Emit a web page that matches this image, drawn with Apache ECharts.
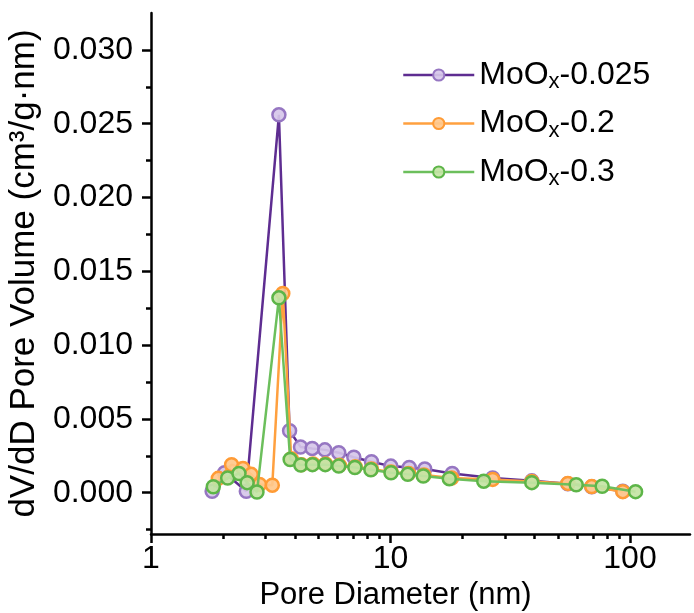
<!DOCTYPE html>
<html>
<head>
<meta charset="utf-8">
<script src="https://cdn.jsdelivr.net/npm/echarts@6/dist/echarts.min.js"></script>
<style>
html,body{margin:0;padding:0;background:#fff;}
#c{width:694px;height:613px;}
</style>
</head>
<body>
<div id="c"></div>
<script>
// ---- data ----
const seriesNames = ['MoOx-0.025', 'MoOx-0.2', 'MoOx-0.3'];

const xPurple = [1.80, 2.03, 2.50, 3.42, 3.79, 4.21, 4.71, 5.32, 6.08, 7.03, 8.33, 10.03, 11.97, 13.9, 18.1, 26.7, 38.9, 55.0, 69.2, 93.3];
const yPurple = [0.0001, 0.00135, 0.0001, 0.0256, 0.0042, 0.0031, 0.0030, 0.0029, 0.0027, 0.0024, 0.0021, 0.0018, 0.0017, 0.0016, 0.0013, 0.0010, 0.0008, 0.0006, 0.0004, 0.0001];

const xOrange = [1.91, 2.17, 2.42, 2.62, 2.84, 3.21, 3.55, 3.85, 4.25, 4.75, 5.36, 6.12, 7.12, 8.32, 10.05, 11.9, 13.8, 18.0, 26.7, 38.9, 55.0, 69.2, 93.3];
const yOrange = [0.00097, 0.0019, 0.00164, 0.00124, 0.00056, 0.00051, 0.0135, 0.0023, 0.0019, 0.00195, 0.00195, 0.00185, 0.00175, 0.0016, 0.0014, 0.0013, 0.0012, 0.0010, 0.0009, 0.00075, 0.00063, 0.00041, 0.00007];

const xGreen = [1.82, 2.09, 2.33, 2.52, 2.77, 3.42, 3.81, 4.22, 4.72, 5.34, 6.08, 7.10, 8.28, 10.05, 11.8, 13.7, 17.6, 24.5, 38.9, 59.6, 76.5, 105.5];
const yGreen = [0.0004, 0.0010, 0.0013, 0.00068, 0.00004, 0.0132, 0.00225, 0.00187, 0.0019, 0.0019, 0.0018, 0.0017, 0.00155, 0.00135, 0.00124, 0.00113, 0.00095, 0.00078, 0.00068, 0.00054, 0.00043, 0.00007];

const xMajorTicks = [1, 10, 100];
const xMinorTicks = [2, 3, 4, 5, 6, 7, 8, 9, 20, 30, 40, 50, 60, 70, 80, 90];
const yMajorTicks = [0, 0.005, 0.010, 0.015, 0.020, 0.025, 0.030];
const yMinorTicks = [-0.0025, 0.0025, 0.0075, 0.0125, 0.0175, 0.0225, 0.0275];

const xMin = 1, xMax = 178;
const yMin = -0.0028, yMax = 0.0325;

// ---- chart ----
const FONT = '"Liberation Sans", Arial, sans-serif';
const zip = (xs, ys) => xs.map((x, i) => [x, ys[i]]);

const styles = [
  {line: '#5e2d91', fill: 'rgba(214,199,233,0.92)', border: '#9676c2'},
  {line: '#ffa03f', fill: 'rgba(255,200,140,0.92)', border: '#ff9b35'},
  {line: '#6cbf5c', fill: 'rgba(196,228,165,0.92)', border: '#5db548'}
];
const datas = [zip(xPurple, yPurple), zip(xOrange, yOrange), zip(xGreen, yGreen)];

const chart = echarts.init(document.getElementById('c'), null, {renderer: 'canvas'});

const axisLineStyle = {color: '#000', width: 2.5};

chart.setOption({
  animation: false,
  backgroundColor: '#fff',
  grid: {left: 151, right: 4, top: 13, bottom: 79, containLabel: false, outerBoundsMode: 'none'},
  legend: {
    orient: 'vertical',
    left: 397,
    top: 54,
    itemWidth: 71,
    itemHeight: 14,
    itemGap: 14.5,
    data: seriesNames,
    lineStyle: {width: 2.5},
    formatter: function (name) {
      return '{n|MoO}{s|x}{n|' + name.replace('MoOx', '') + '}';
    },
    textStyle: {
      padding: [0, 0, 0, 0],
      rich: {
        n: {fontFamily: FONT, fontSize: 32, color: '#000', lineHeight: 36},
        s: {fontFamily: FONT, fontSize: 22, color: '#000', lineHeight: 20, verticalAlign: 'bottom'}
      }
    }
  },
  xAxis: [
    {
      type: 'log', logBase: 10, min: xMin, max: xMax, position: 'bottom',
      axisLine: {show: true, onZero: false, lineStyle: axisLineStyle},
      axisTick: {show: true, inside: false, length: 9, customValues: xMajorTicks, lineStyle: {color: '#000', width: 2.5}},
      axisLabel: {show: true, customValues: xMajorTicks, margin: 9, fontFamily: FONT, fontSize: 32, color: '#000'},
      splitLine: {show: false},
      minorTick: {show: false},
      name: 'Pore Diameter (nm)',
      nameLocation: 'middle',
      nameGap: 41,
      nameTextStyle: {fontFamily: FONT, fontSize: 31, color: '#000', padding: [0, 50, 0, 0]}
    },
    {
      type: 'log', logBase: 10, min: xMin, max: xMax, position: 'bottom',
      axisLine: {show: false, onZero: false},
      axisTick: {show: true, inside: false, length: 5, customValues: xMinorTicks, lineStyle: {color: '#000', width: 2.5}},
      axisLabel: {show: false},
      splitLine: {show: false}
    }
  ],
  yAxis: [
    {
      type: 'value', min: yMin, max: yMax, position: 'left',
      axisLine: {show: true, onZero: false, lineStyle: axisLineStyle},
      axisTick: {show: true, inside: false, length: 9, customValues: yMajorTicks, lineStyle: {color: '#000', width: 2.5}},
      axisLabel: {show: true, customValues: yMajorTicks, margin: 18, fontFamily: FONT, fontSize: 32, color: '#000',
        formatter: v => v.toFixed(3)},
      splitLine: {show: false},
      name: 'dV/dD Pore Volume (cm³/g·nm)',
      nameLocation: 'middle',
      nameGap: 100,
      nameTextStyle: {fontFamily: FONT, fontSize: 35, color: '#000'}
    },
    {
      type: 'value', min: yMin, max: yMax, position: 'left',
      axisLine: {show: false, onZero: false},
      axisTick: {show: true, inside: false, length: 5, customValues: yMinorTicks, lineStyle: {color: '#000', width: 2.5}},
      axisLabel: {show: false},
      splitLine: {show: false}
    }
  ],
  series: seriesNames.map((name, i) => ({
    name: name,
    type: 'line',
    xAxisIndex: 0,
    yAxisIndex: 0,
    data: datas[i],
    symbol: 'circle',
    symbolSize: 13,
    showSymbol: true,
    lineStyle: {color: styles[i].line, width: 2.5},
    itemStyle: {color: styles[i].fill, borderColor: styles[i].border, borderWidth: 2.5},
    emphasis: {disabled: true},
    z: 2 + i
  }))
});
</script>
</body>
</html>
